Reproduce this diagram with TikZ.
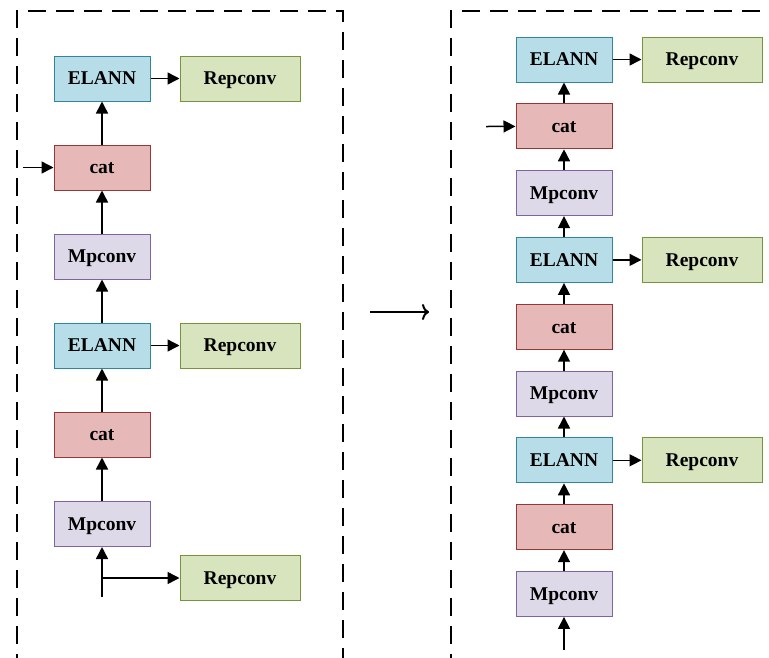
\documentclass[tikz,border=0pt]{standalone}
\usepackage{fontspec}
\setmainfont{Liberation Serif}
\usepackage{xcolor}
\usetikzlibrary{arrows.meta,positioning}

\definecolor{elanfill}{HTML}{B7DEE8}
\definecolor{elanline}{HTML}{31859C}
\definecolor{repfill}{HTML}{D7E4BD}
\definecolor{repline}{HTML}{77933C}
\definecolor{catfill}{HTML}{E6B9B8}
\definecolor{catline}{HTML}{953735}
\definecolor{mpfill}{HTML}{DDD9E8}
\definecolor{mpline}{HTML}{8064A2}

\tikzset{
  blk/.style={draw,line width=1pt,minimum width=96pt,minimum height=45pt,inner sep=0pt,
    text height=12.9pt,text depth=0pt},
  elann/.style={blk,fill=elanfill,draw=elanline},
  rep/.style={blk,fill=repfill,draw=repline,minimum width=120pt},
  catb/.style={blk,fill=catfill,draw=catline},
  mp/.style={blk,fill=mpfill,draw=mpline},
  arr/.style={line width=1.5pt,-{Triangle[length=12pt,width=12pt]}},
  dashbox/.style={line width=2pt,dash pattern=on 18pt off 10pt}
}

\begin{document}
\begin{tikzpicture}[x=1pt,y=-1pt, every node/.style={font=\fontsize{19.5}{22}\selectfont\bfseries}]
    \clip (0,0) rectangle (769,657);
    % dashed frames
    \draw[dashbox] (17,700) -- (17,11) -- (343,11) -- (343,700);
    \draw[dashbox] (451,700) -- (451,11) -- (800,11);
    % left: before
    \node[elann] (lE1) at (102,78.5) {ELANN};
    \node[rep] (lR1) at (240,78.5) {Repconv};
    \node[catb] (lC1) at (102,167.5) {cat};
    \node[mp] (lM1) at (102,256.5) {Mpconv};
    \node[elann] (lE2) at (102,345.5) {ELANN};
    \node[rep] (lR2) at (240,345.5) {Repconv};
    \node[catb] (lC2) at (102,434.5) {cat};
    \node[mp] (lM2) at (102,524) {Mpconv};
    \node[rep] (lR3) at (240,578) {Repconv};
    \coordinate (lin) at (102,597);
    \coordinate (lside) at (23,167.5);
    \draw[arr] (lin) -- (lM2);
    \draw[arr] (lin |- lR3) -- (lR3);
    \draw[arr] (lM2) -- (lC2);
    \draw[arr] (lC2) -- (lE2);
    \draw[arr] (lE2) -- (lR2);
    \draw[arr] (lE2) -- (lM1);
    \draw[arr] (lM1) -- (lC1);
    \draw[arr] (lside) -- (lC1);
    \draw[arr] (lC1) -- (lE1);
    \draw[arr] (lE1) -- (lR1);
    % middle arrow
    \coordinate (ml) at (370,312);
    \coordinate (mr) at (429,312);
    \draw[line width=2pt,-{To[length=7pt,width=16pt]}] (ml) -- (mr);
    % right: after
    \foreach \i in {1,2,3} {
      \pgfmathsetmacro{\yy}{59.5+(\i-1)*200.4}
      \node[elann] (rE\i) at (564,\yy) {ELANN};
      \node[rep] (rR\i) at (702,\yy) {Repconv};
      \node[catb] (rC\i) at (564,\yy+66.8) {cat};
      \node[mp] (rM\i) at (564,\yy+133.6) {Mpconv};
      \draw[arr] (rM\i) -- (rC\i);
      \draw[arr] (rC\i) -- (rE\i);
      \draw[arr] (rE\i) -- (rR\i);
    }
    \draw[arr] (rE2) -- (rM1);
    \draw[arr] (rE3) -- (rM2);
    \coordinate (rin) at (564,650);
    \coordinate (rside) at (486,126.5);
    \draw[arr] (rin) -- (rM3);
    \draw[arr] (rside) -- (rC1);
\end{tikzpicture}
\end{document}
